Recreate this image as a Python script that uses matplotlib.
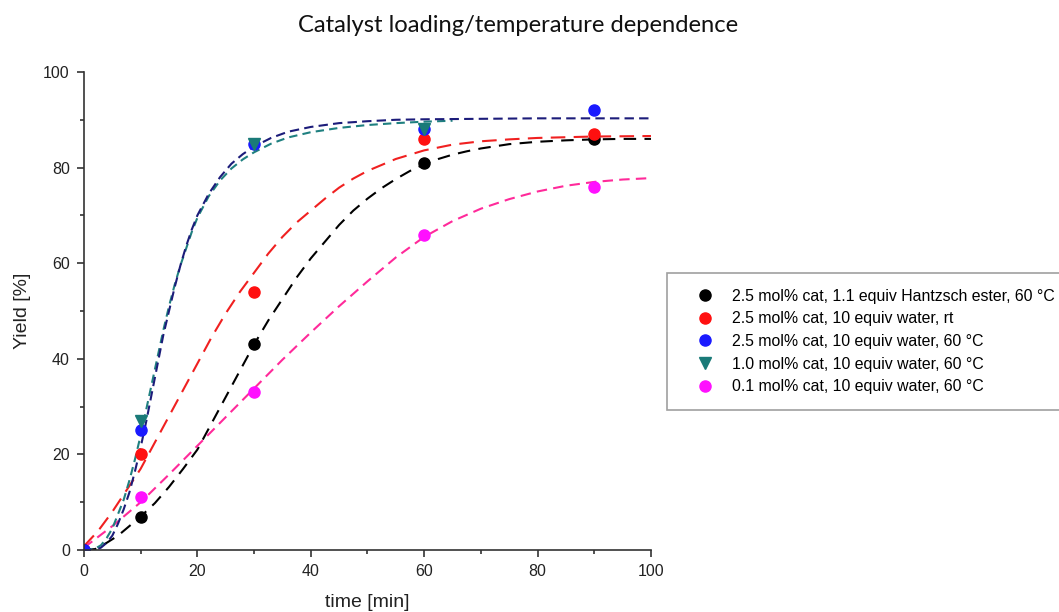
import matplotlib
matplotlib.use("Agg")
import matplotlib.pyplot as plt
from matplotlib.ticker import MultipleLocator

plt.rcParams['font.family'] = ['Liberation Sans', 'DejaVu Sans']

# measured data points
t_black = [0, 10, 30, 60, 90]
y_black = [0, 7, 43, 81, 86]
t_red = [10, 30, 60, 90]
y_red = [20, 54, 86, 87]
t_blue = [0, 10, 30, 60, 90]
y_blue = [0, 25, 85, 88, 92]
t_teal = [10, 30, 60]
y_teal = [27, 85, 88]
t_mag = [10, 30, 60, 90]
y_mag = [11, 33, 66, 76]

labels = [
    "2.5 mol% cat, 1.1 equiv Hantzsch ester, 60 \u00b0C",
    "2.5 mol% cat, 10 equiv water, rt",
    "2.5 mol% cat, 10 equiv water, 60 \u00b0C",
    "1.0 mol% cat, 10 equiv water, 60 \u00b0C",
    "0.1 mol% cat, 10 equiv water, 60 \u00b0C",
]

# fitted curves, values
fit_t_black = [0, 2, 4, 6, 8, 10, 12.5, 15, 17.5, 20, 22.5, 25, 27.5, 30, 32.5, 35, 37.5, 40,
               42.5, 45, 47.5, 50, 52.5, 55, 57.5, 60, 62.5, 65, 67.5, 70, 75, 80, 85, 90, 95, 100]
fit_y_black = [0, 0.2, 1.5, 3, 5, 7, 9.8, 13.2, 17, 21, 26.5, 32, 37.5, 43, 48, 52.5, 57, 61,
               64.5, 68, 71, 73.5, 75.7, 77.6, 79.3, 80.7, 81.8, 82.7, 83.4, 84, 84.9, 85.4, 85.7, 85.9, 86, 86]
fit_t_red = [0, 2.5, 5, 7.5, 10, 12.5, 15, 17.5, 20, 22.5, 25, 27.5, 30, 32.5, 35, 37.5, 40,
             42.5, 45, 47.5, 50, 55, 60, 65, 70, 75, 80, 90, 100]
fit_y_red = [0.8, 4, 8, 12.5, 17, 22.5, 28, 33.5, 39, 44.5, 49.5, 54, 58, 62, 65.5, 68.5, 71,
             73.5, 75.8, 77.7, 79.3, 81.8, 83.6, 84.8, 85.5, 85.9, 86.2, 86.5, 86.6]
fit_t_navy = [0, 2, 3, 4, 5, 6, 7, 8, 9, 10, 11, 12, 13, 14, 15, 16, 17, 18, 19, 20, 22, 24, 26,
              28, 30, 33, 36, 40, 45, 50, 55, 60, 70, 80, 100]
fit_y_navy = [0, 0, 0.5, 1.5, 3, 5.5, 8.5, 12, 16.5, 21.5, 27, 33, 39, 45, 50, 55, 59.5, 63.5, 67,
              70, 74.5, 78, 80.8, 82.8, 84.4, 86.2, 87.5, 88.5, 89.3, 89.7, 90, 90.1, 90.2, 90.3, 90.3]
fit_t_teal = [0, 2, 3, 4, 5, 6, 7, 8, 9, 10, 11, 12, 13, 14, 15, 16, 17, 18, 19, 20, 22, 24, 26,
              28, 30, 33, 36, 40, 45, 50, 55, 60, 65]
fit_y_teal = [0, 0.3, 1, 2.5, 4.5, 7.5, 10.5, 14.5, 19, 24, 29.5, 35, 40.5, 46, 51, 55.5, 59.5, 63,
              66.5, 69.5, 74, 77.3, 79.8, 81.7, 83.2, 85, 86.3, 87.4, 88.3, 88.9, 89.3, 89.6, 89.8]
fit_t_mag = [0, 5, 10, 15, 20, 25, 30, 35, 40, 45, 50, 55, 60, 65, 70, 75, 80, 85, 90, 95, 100]
fit_y_mag = [0.5, 5, 10, 15.8, 21.8, 27.8, 33.8, 39.8, 45.5, 51, 56.2, 61.2, 65.5, 68.8, 71.4,
             73.4, 75, 76.2, 77, 77.5, 77.8]

fig = plt.figure(figsize=(10.59, 6.12), dpi=100)
ax = fig.add_axes([0.0793, 0.1013, 0.5354, 0.7811])

ax.plot(fit_t_black, fit_y_black, color='black', lw=1.5, ls=(0, (6, 4)))
ax.plot(fit_t_red, fit_y_red, color='#f02020', lw=1.5, ls=(0, (7, 4)))
ax.plot(fit_t_mag, fit_y_mag, color='#ff2a9a', lw=1.5, ls=(0, (5, 3)))
ax.plot(fit_t_teal, fit_y_teal, color='#1f8080', lw=1.5, ls=(0, (4, 2.5)))
ax.plot(fit_t_navy, fit_y_navy, color='#1c1c7a', lw=1.5, ls=(0, (4.5, 2.5)))

ms = 8
ax.plot(t_black, y_black, 'o', color='black', ms=ms, label=labels[0])
ax.plot(t_red, y_red, 'o', color='#ff1010', ms=ms, label=labels[1])
ax.plot(t_blue, y_blue, 'o', color='#1a1aff', ms=ms, label=labels[2])
ax.plot(t_teal, y_teal, 'v', color='#1a7a78', ms=ms + 1, label=labels[3])
ax.plot(t_mag, y_mag, 'o', color='#ff10ff', ms=ms, label=labels[4])

ax.set_xlim(0, 100)
ax.set_ylim(0, 100)
ax.xaxis.set_major_locator(MultipleLocator(20))
ax.xaxis.set_minor_locator(MultipleLocator(10))
ax.yaxis.set_major_locator(MultipleLocator(20))
ax.yaxis.set_minor_locator(MultipleLocator(10))
ax.spines['top'].set_visible(False)
ax.spines['right'].set_visible(False)
for s in ['left', 'bottom']:
    ax.spines[s].set_color('#333333')
    ax.spines[s].set_linewidth(1.2)
ax.tick_params(which='major', direction='out', length=5, width=1.2, pad=5.2,
               colors='#333333', labelsize=11.5, labelcolor='#222222')
ax.tick_params(which='minor', direction='out', length=3, width=1.2, colors='#333333')

ax.set_xlabel('time [min]', fontsize=14, color='#222222', labelpad=11)
ax.set_ylabel('Yield [%]', fontsize=14, color='#222222', labelpad=9)

fig.text(0.489, 0.959, 'Catalyst loading/temperature dependence', ha='center', va='center',
         fontsize=17.1, family=['Lato', 'DejaVu Sans'], color='#111111')

leg = fig.legend(loc='upper left', bbox_to_anchor=(0.630, 0.554), fontsize=11.4,
                 frameon=True, fancybox=False, edgecolor='#888888', borderpad=1.0,
                 labelspacing=0.48, handletextpad=0.3, borderaxespad=0, handlelength=2.8)
leg.get_frame().set_linewidth(1.2)

fig.savefig('out.png', dpi=100)
